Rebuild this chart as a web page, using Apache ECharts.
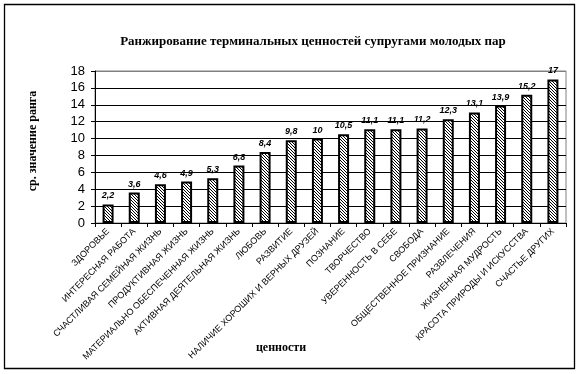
<!DOCTYPE html>
<html>
<head>
<meta charset="utf-8">
<script src="https://cdn.jsdelivr.net/npm/echarts@6/dist/echarts.min.js"></script>
<style>
html,body{margin:0;padding:0;background:#fff;}
#chart{width:580px;height:374px;}
</style>
</head>
<body>
<div id="chart"></div>
<script>
const categories = [
  'ЗДОРОВЬЕ',
  'ИНТЕРЕСНАЯ РАБОТА',
  'СЧАСТЛИВАЯ СЕМЕЙНАЯ ЖИЗНЬ',
  'ПРОДУКТИВНАЯ ЖИЗНЬ',
  'МАТЕРИАЛЬНО ОБЕСПЕЧЕННАЯ ЖИЗНЬ',
  'АКТИВНАЯ ДЕЯТЕЛЬНАЯ ЖИЗНЬ',
  'ЛЮБОВЬ',
  'РАЗВИТИЕ',
  'НАЛИЧИЕ ХОРОШИХ И ВЕРНЫХ ДРУЗЕЙ',
  'ПОЗНАНИЕ',
  'ТВОРЧЕСТВО',
  'УВЕРЕННОСТЬ В СЕБЕ',
  'СВОБОДА',
  'ОБЩЕСТВЕННОЕ ПРИЗНАНИЕ',
  'РАЗВЛЕЧЕНИЯ',
  'ЖИЗНЕННАЯ МУДРОСТЬ',
  'КРАСОТА ПРИРОДЫ И ИСКУССТВА',
  'СЧАСТЬЕ ДРУГИХ'
];
const rankValues = [2.2, 3.6, 4.6, 4.9, 5.3, 6.8, 8.4, 9.8, 10, 10.5, 11.1, 11.1, 11.2, 12.3, 13.1, 13.9, 15.2, 17];
const yTicks = [0, 2, 4, 6, 8, 10, 12, 14, 16, 18];
const titleText = 'Ранжирование терминальных ценностей супругами молодых пар';
const yTitle = 'ср. значение ранга';
const xTitle = 'ценности';

// hatch pattern (diagonal "\\\")
const pc = document.createElement('canvas');
pc.width = 3; pc.height = 3;
const ctx = pc.getContext('2d');
ctx.fillStyle = '#fff';
ctx.fillRect(0, 0, 3, 3);
ctx.fillStyle = '#000';
for (let i = 0; i < 3; i++) { ctx.fillRect(i, i, 1, 1); }

const splitColors = yTicks.map((t, i) => i === yTicks.length - 1 ? '#808080' : '#000');

const chart = echarts.init(document.getElementById('chart'), null, {renderer: 'canvas'});
chart.setOption({
  animation: false,
  backgroundColor: '#fff',
  grid: {left: 95, right: 14, top: 71, bottom: 151, containLabel: false,
         show: true, borderColor: '#808080', borderWidth: 1, backgroundColor: 'transparent'},
  xAxis: {
    type: 'category',
    data: categories,
    axisLine: {lineStyle: {color: '#000', width: 1}},
    axisTick: {show: true, alignWithLabel: false, length: 4, inside: false, lineStyle: {color: '#000'}},
    axisLabel: {
      interval: 0, rotate: 45, margin: 7,
      fontFamily: 'Liberation Sans, Arial, sans-serif', fontSize: 9, color: '#000'
    },
    splitLine: {show: false}
  },
  yAxis: {
    type: 'value',
    min: yTicks[0], max: yTicks[yTicks.length - 1], interval: 2,
    axisLine: {show: true, lineStyle: {color: '#000', width: 1}},
    axisTick: {show: true, length: 4, lineStyle: {color: '#000'}},
    axisLabel: {margin: 10, fontFamily: 'Liberation Sans, Arial, sans-serif', fontSize: 13, color: '#000'},
    splitLine: {show: true, lineStyle: {color: splitColors, width: 1}}
  },
  series: [{
    type: 'bar',
    data: rankValues,
    barWidth: 11,
    itemStyle: {
      color: {image: pc, repeat: 'repeat'},
      borderColor: '#000',
      borderWidth: 2
    },
    label: {
      show: true, position: 'top', distance: 4,
      fontFamily: 'Liberation Sans, Arial, sans-serif', fontSize: 9,
      fontStyle: 'italic', fontWeight: 'bold', color: '#000',
      formatter: p => String(p.value).replace('.', ',')
    }
  }],
  graphic: [
    {type: 'rect', shape: {x: 4.5, y: 4.5, width: 570, height: 364}, style: {fill: 'none', stroke: '#000', lineWidth: 1.3}, silent: true},
    {type: 'text', x: 313, y: 42, style: {text: titleText, font: 'bold 13px "Liberation Serif", "Times New Roman", serif', fill: '#000', textAlign: 'center', textVerticalAlign: 'middle'}},
    {type: 'text', x: 33, y: 141, rotation: Math.PI / 2, style: {text: yTitle, font: 'bold 12px "Liberation Serif", "Times New Roman", serif', fill: '#000', textAlign: 'center', textVerticalAlign: 'middle'}},
    {type: 'text', x: 281, y: 348, style: {text: xTitle, font: 'bold 12px "Liberation Serif", "Times New Roman", serif', fill: '#000', textAlign: 'center', textVerticalAlign: 'middle'}}
  ]
});
</script>
</body>
</html>
